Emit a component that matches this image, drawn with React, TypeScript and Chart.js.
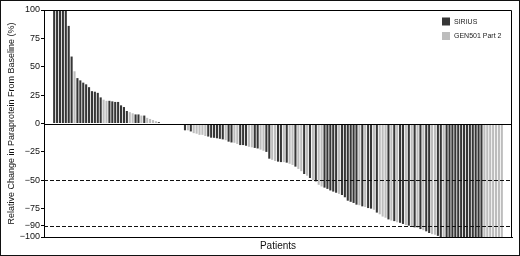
import React, { useEffect, useRef } from "react";
import { Chart, registerables } from "chart.js";

Chart.register(...registerables);

// Relative change in paraprotein (%) per patient, sorted (waterfall)
const changeValues: number[] = [
  100, 100, 100, 100, 100, 86, 59, 46, 40, 38, 36, 34.5, 32, 28.5, 28, 27, 23, 21, 20, 20,
  19.5, 19, 19, 16, 14.5, 11, 10, 9, 8, 8, 7, 7, 5, 4, 3, 2, 1.2,
  0, 0, 0, 0, 0, 0, 0, 0,
  -6, -6, -7, -8.5, -9, -10, -10, -11, -11.5, -12.5, -12.6, -13, -13.5, -14, -14.7, -16, -16.7, -17, -18,
  -19, -19, -19.6, -20.5, -21, -21.5, -22, -23, -24, -25,
  -31, -32, -33, -33.6, -34, -34, -34.5, -35.5, -36.5, -38, -40, -42, -44.5, -46, -48, -50, -51,
  -54, -55.5, -56.5, -57.6, -59, -60, -61, -62, -63, -65, -68, -69, -70, -71.5, -72, -73, -73.5, -74.5, -75, -76, -78.5,
  -80, -82, -83, -84.5, -85.5, -86, -87, -87.5, -88.5, -89.5, -90, -91, -91.5, -92, -93, -94, -95, -96.5, -97.5, -98, -99,
  -100, -100, -100, -100, -100, -100, -100, -100, -100, -100, -100, -100, -100, -100, -100, -100, -100, -100, -100, -100, -100, -100,
];

// Study of each patient: S = SIRIUS, G = GEN501 Part 2
const studyCodes: string[] = [
  "SSSSSSS", "G", "SSSSSSSSS", "GG", "SSSSSSS", "GG", "SS", "G", "S", "GGGG", "S",
  "SSSSSSSS",
  "S", "G", "S", "GGGGG", "SSSSSS", "G", "SS", "GG", "SSS", "GG", "SS", "GG", "SS", "GG", "SS", "G", "S",
  "GG", "S", "GG", "S", "G", "S", "G", "S", "GG", "SSSSS", "G", "SSSSSS", "G", "S", "G", "SS", "G", "S",
  "GGG", "S", "G", "S", "G", "SS", "G", "S", "G", "S", "G", "S", "G", "SS", "GG", "SS", "G",
  "SSSSSSSSSSSSS", "GGGGGGG",
].join("").split("");

const seriesNames = ["SIRIUS", "GEN501 Part 2"];
const seriesCodes = ["S", "G"];
const seriesColors = ["#363636", "#bdbdbd"];
const yTickValues = [100, 75, 50, 25, 0, -25, -50, -75, -90, -100];
const thresholdLines = [-50, -90];
const yAxisTitle = "Relative Change in Paraprotein From Baseline (%)";
const xAxisTitle = "Patients";
const padSlots = 3;

const FONT = "'Liberation Sans', Arial, Helvetica, sans-serif";

export default function App() {
  const canvasRef = useRef<HTMLCanvasElement | null>(null);

  useEffect(() => {
    document.body.style.margin = "0";
    const canvas = canvasRef.current;
    if (!canvas) return;

    const pad: (number | null)[] = Array(padSlots).fill(null);
    const labels = Array(changeValues.length + padSlots * 2).fill("");
    const datasets = seriesNames.map((name, k) => ({
      label: name,
      data: [
        ...pad,
        ...changeValues.map((v, i) => (studyCodes[i] === seriesCodes[k] ? v : null)),
        ...pad,
      ],
      backgroundColor: seriesColors[k],
      borderWidth: 0,
      grouped: false,
      categoryPercentage: 1,
      barPercentage: 0.72,
    }));

    const framePlugin = {
      id: "frame",
      afterDatasetsDraw(chart: any) {
        const { ctx, chartArea } = chart;
        const y = chart.scales.y;
        ctx.save();
        ctx.strokeStyle = "#000";
        ctx.lineWidth = 1;
        // top and right borders
        ctx.beginPath();
        ctx.moveTo(chartArea.left, chartArea.top + 0.5);
        ctx.lineTo(chartArea.right - 0.5, chartArea.top + 0.5);
        ctx.lineTo(chartArea.right - 0.5, chartArea.bottom);
        ctx.stroke();
        // zero line
        const y0 = Math.round(y.getPixelForValue(0)) + 0.5;
        ctx.beginPath();
        ctx.moveTo(chartArea.left, y0);
        ctx.lineTo(chartArea.right, y0);
        ctx.stroke();
        // dashed thresholds
        ctx.setLineDash([4, 2]);
        ctx.strokeStyle = "#111";
        thresholdLines.forEach((t) => {
          const yy = Math.round(y.getPixelForValue(t)) + 0.5;
          ctx.beginPath();
          ctx.moveTo(chartArea.left, yy);
          ctx.lineTo(chartArea.right, yy);
          ctx.stroke();
        });
        ctx.restore();
      },
      afterDraw(chart: any) {
        const { ctx, chartArea } = chart;
        ctx.save();
        const boxX = chartArea.right - 70;
        seriesNames.forEach((name, k) => {
          const top = chartArea.top + 7.5 + k * 14.5;
          ctx.fillStyle = seriesColors[k];
          ctx.fillRect(boxX, top, 8, 8);
          ctx.fillStyle = "#222";
          ctx.font = `7px ${FONT}`;
          ctx.textBaseline = "middle";
          ctx.textAlign = "left";
          ctx.fillText(name, boxX + 12, top + 4.5);
        });
        ctx.restore();
      },
    };

    const chart = new Chart(canvas, {
      type: "bar",
      data: { labels, datasets: datasets as any },
      options: {
        responsive: false,
        animation: false,
        devicePixelRatio: 1,
        layout: { padding: { top: 9, right: 7, left: 0, bottom: 0 } },
        plugins: { legend: { display: false }, tooltip: { enabled: false } },
        scales: {
          x: {
            type: "category",
            ticks: { display: false },
            grid: { display: false, drawTicks: false },
            border: { display: true, color: "#000", width: 1 },
            title: {
              display: true,
              text: xAxisTitle,
              color: "#111",
              font: { family: FONT, size: 10 },
              padding: { top: 0, bottom: 3 },
            },
            afterFit: (s: any) => {
              s.height = 18;
            },
          },
          y: {
            min: -100,
            max: 100,
            afterBuildTicks: (s: any) => {
              s.ticks = yTickValues.map((v) => ({ value: v }));
            },
            ticks: {
              autoSkip: false,
              padding: 1,
              color: "#111",
              font: { family: FONT, size: 9 },
              callback: (v: any) => (Number(v) < 0 ? "\u2212" + Math.abs(Number(v)) : String(v)),
            },
            grid: { drawOnChartArea: false, drawTicks: true, tickLength: 3, color: "#000" },
            border: { display: true, color: "#000", width: 1 },
            title: {
              display: true,
              text: yAxisTitle,
              color: "#111",
              font: { family: FONT, size: 9 },
              padding: { top: 5, bottom: 0 },
            },
            afterFit: (s: any) => {
              s.width = 43;
            },
          },
        },
      },
      plugins: [framePlugin],
    });

    return () => chart.destroy();
  }, []);

  return (
    <div
      style={{
        width: 520,
        height: 256,
        boxSizing: "border-box",
        border: "1px solid #111",
        background: "#fff",
      }}
    >
      <canvas ref={canvasRef} width={518} height={254} style={{ display: "block" }} />
    </div>
  );
}
